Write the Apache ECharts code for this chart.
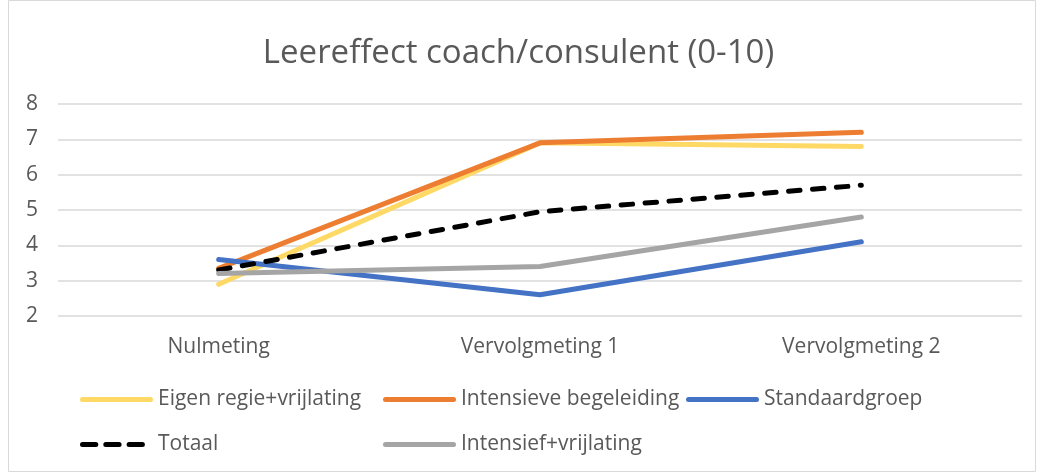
<!DOCTYPE html>
<html>
<head>
<meta charset="utf-8">
<script src="https://cdn.jsdelivr.net/npm/echarts@6/dist/echarts.min.js"></script>
<style>
  html, body { margin: 0; padding: 0; background: #fff; }
  #chart { width: 1037px; height: 473px; }
</style>
</head>
<body>
<div id="chart"></div>
<script>
var categories = ['Nulmeting', 'Vervolgmeting 1', 'Vervolgmeting 2'];
var eigenRegie = [2.9, 6.9, 6.8];
var intensieve = [3.35, 6.9, 7.2];
var standaard = [3.6, 2.6, 4.1];
var totaal = [3.3, 4.95, 5.7];
var intensiefVrij = [3.2, 3.4, 4.8];
var yTicks = { min: 2, max: 8, interval: 1 };

var font = '"Open Sans", "Noto Sans", sans-serif';
var textColor = '#595959';

// legend icons: rounded bar, and three rounded dashes for Totaal
// (the last zero-width subpath only keeps the icon 73 wide)
var solidIcon = 'path://M2.5,0 H70.5 A2.5,2.5 0 0 1 70.5,5 H2.5 A2.5,2.5 0 0 1 2.5,0 Z';
var dashIcon = 'path://M2.5,0 H15.8 A2.5,2.5 0 0 1 15.8,5 H2.5 A2.5,2.5 0 0 1 2.5,0 Z ' +
  'M25.8,0 H39.1 A2.5,2.5 0 0 1 39.1,5 H25.8 A2.5,2.5 0 0 1 25.8,0 Z ' +
  'M49.1,0 H62.4 A2.5,2.5 0 0 1 62.4,5 H49.1 A2.5,2.5 0 0 1 49.1,0 Z ' +
  'M73,0 L73,5 Z';

function lineSeries(name, data, color, dashed) {
  return {
    name: name,
    type: 'line',
    data: data,
    symbol: 'none',
    lineStyle: {
      color: color,
      width: 5,
      cap: 'round',
      join: 'round',
      type: dashed ? [11.5, 12.5] : 'solid'
    },
    itemStyle: { color: color }
  };
}

function legendItem(left, rowY, name, icon) {
  return {
    left: left,
    top: rowY - 11,
    padding: 0,
    itemWidth: 73,
    itemHeight: 5,
    data: [{ name: name, icon: icon }],
    textStyle: { color: textColor, fontSize: 21, fontFamily: font }
  };
}

var myChart = echarts.init(document.getElementById('chart'));
var option = {
  backgroundColor: '#fff',
  animation: false,
  title: {
    text: 'Leereffect coach/consulent (0-10)',
    left: 'center',
    top: 32,
    textStyle: { color: textColor, fontSize: 33, fontWeight: 'normal', fontFamily: font }
  },
  graphic: [{
    type: 'rect',
    shape: { x: 8.5, y: 0.5, width: 1027, height: 471 },
    style: { fill: 'none', stroke: '#d9d9d9', lineWidth: 1 },
    silent: true
  }],
  legend: [
    legendItem(80, 400, 'Eigen regie+vrijlating', solidIcon),
    legendItem(383, 400, 'Intensieve begeleiding', solidIcon),
    legendItem(686, 400, 'Standaardgroep', solidIcon),
    legendItem(80, 445, 'Totaal', dashIcon),
    legendItem(383, 445, 'Intensief+vrijlating', solidIcon)
  ],
  grid: { left: 58, right: 15, top: 104, bottom: 157 },
  xAxis: {
    type: 'category',
    data: categories,
    boundaryGap: true,
    axisLine: { show: false },
    axisTick: { show: false },
    axisLabel: { color: textColor, fontSize: 21, fontFamily: font, margin: 21 }
  },
  yAxis: {
    type: 'value',
    min: yTicks.min,
    max: yTicks.max,
    interval: yTicks.interval,
    axisLine: { show: false },
    axisTick: { show: false },
    axisLabel: { color: textColor, fontSize: 21, fontFamily: font, margin: 20 },
    splitLine: { lineStyle: { color: '#d9d9d9', width: 1.5 } }
  },
  series: [
    lineSeries('Eigen regie+vrijlating', eigenRegie, '#FFD966', false),
    lineSeries('Intensieve begeleiding', intensieve, '#ED7D31', false),
    lineSeries('Standaardgroep', standaard, '#4472C4', false),
    lineSeries('Totaal', totaal, '#000000', true),
    lineSeries('Intensief+vrijlating', intensiefVrij, '#A5A5A5', false)
  ]
};
myChart.setOption(option);
</script>
</body>
</html>
